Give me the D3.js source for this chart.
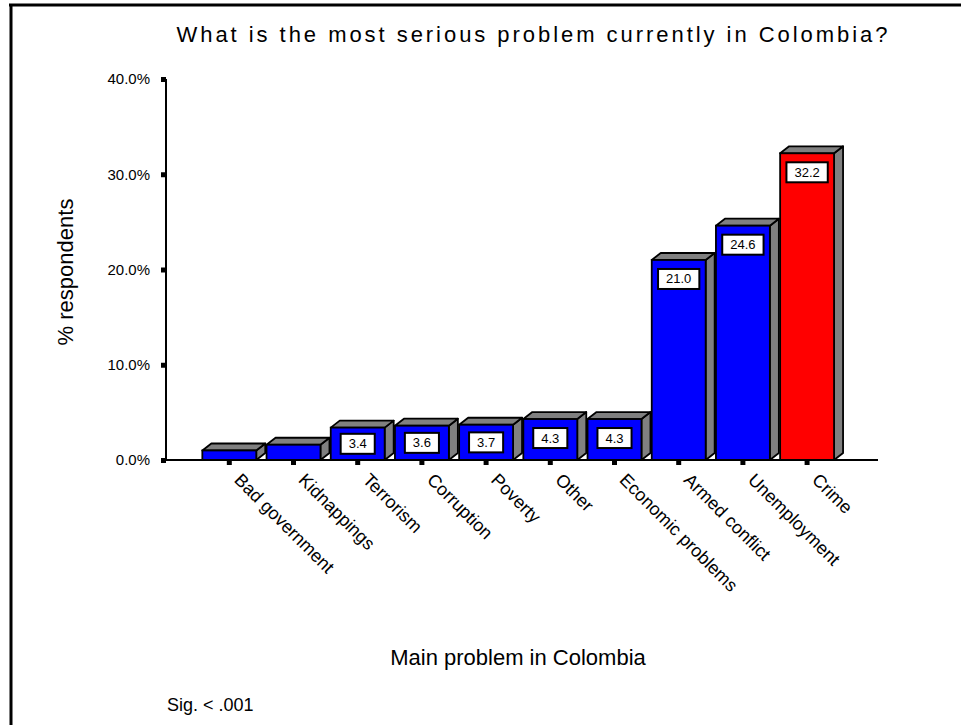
<!DOCTYPE html>
<html>
<head>
<meta charset="utf-8">
<script src="https://cdn.jsdelivr.net/npm/d3@7/dist/d3.min.js"></script>
<style>
  body { margin: 0; background: #fff; }
  text { font-family: Arial, "Liberation Sans", sans-serif; fill: #000; }
</style>
</head>
<body>
<svg id="chart" width="961" height="725"></svg>
<script>
// Survey answers: main problem in Colombia (% of respondents)
const categories = ["Bad government", "Kidnappings", "Terrorism", "Corruption", "Poverty",
                    "Other", "Economic problems", "Armed conflict", "Unemployment", "Crime"];
const values = [1.0, 1.6, 3.4, 3.6, 3.7, 4.3, 4.3, 21.0, 24.6, 32.2];
const highlighted = ["Crime"];
const yTicks = [0, 10, 20, 30, 40];

const titleText = "What is the most serious problem currently in Colombia?";
const yTitle = "% respondents";
const xTitle = "Main problem in Colombia";
const note = "Sig. < .001";

const svg = d3.select("#chart");
svg.append("rect").attr("width", 961).attr("height", 725).attr("fill", "#fff");

// page frame (left and top rules)
svg.append("line").attr("x1", 11).attr("x2", 11).attr("y1", 4).attr("y2", 725)
  .attr("stroke", "#000").attr("stroke-width", 3);
svg.append("line").attr("x1", 9).attr("x2", 961).attr("y1", 5).attr("y2", 5)
  .attr("stroke", "#000").attr("stroke-width", 3);

const axisX = 166, axisRight = 878;
const y = d3.scaleLinear().domain([0, 40]).range([460, 79]);
const x = d3.scaleBand().domain(categories).range([197.2, 839.2])
  .paddingInner(0.16).paddingOuter(0.08);

const depthX = 9, depthY = 7;
const blue = "#0000ff", red = "#ff0000", grey = "#808080";

// title
svg.append("text")
  .attr("x", 532).attr("y", 42)
  .attr("text-anchor", "middle")
  .attr("font-size", 22)
  .attr("textLength", 711)
  .attr("lengthAdjust", "spacing")
  .text(titleText);

// y axis
const yAxis = d3.axisLeft(y).tickValues(yTicks)
  .tickFormat(d => d.toFixed(1) + "%")
  .tickSize(5).tickPadding(11);
const gy = svg.append("g").attr("transform", `translate(${axisX},0)`).call(yAxis);
gy.select(".domain").remove();
gy.selectAll(".tick line").attr("stroke", "#000").attr("stroke-width", 5);
gy.selectAll(".tick text").attr("font-size", 15).attr("font-family", "Arial, 'Liberation Sans', sans-serif");

// x axis ticks
const xAxis = d3.axisBottom(x).tickSize(5).tickFormat("");
const gx = svg.append("g").attr("transform", `translate(0,${y(0)})`).call(xAxis);
gx.select(".domain").remove();
gx.selectAll(".tick line").attr("stroke", "#000").attr("stroke-width", 5);

// axis lines
svg.append("line").attr("x1", axisX).attr("x2", axisX).attr("y1", y(40)).attr("y2", y(0))
  .attr("stroke", "#000").attr("stroke-width", 2);

// 3D bars
const bw = x.bandwidth();
const bars = svg.append("g");
categories.forEach((c, i) => {
  const v = values[i];
  const x0 = x(c), x1 = x0 + bw;
  const top = y(v), base = y(0);
  const g = bars.append("g");
  // side face
  g.append("polygon")
    .attr("points", [[x1, top], [x1 + depthX, top - depthY], [x1 + depthX, base - depthY], [x1, base]].join(" "))
    .attr("fill", grey).attr("stroke", "#000").attr("stroke-width", 1.8).attr("stroke-linejoin", "round");
  // top face
  g.append("polygon")
    .attr("points", [[x0, top], [x0 + depthX, top - depthY], [x1 + depthX, top - depthY], [x1, top]].join(" "))
    .attr("fill", grey).attr("stroke", "#000").attr("stroke-width", 1.8).attr("stroke-linejoin", "round");
  // front face
  g.append("rect")
    .attr("x", x0).attr("y", top).attr("width", bw).attr("height", base - top)
    .attr("fill", highlighted.includes(c) ? red : blue)
    .attr("stroke", "#000").attr("stroke-width", 1.8);
});

// x axis line drawn over bar bases
svg.append("line").attr("x1", axisX).attr("x2", axisRight).attr("y1", y(0)).attr("y2", y(0))
  .attr("stroke", "#000").attr("stroke-width", 2);

// value labels in white boxes
const labels = svg.append("g");
categories.forEach((c, i) => {
  const v = values[i];
  const top = y(v), base = y(0);
  if (base - top < 28) return;
  const cx = x(c) + bw / 2;
  const cy = Math.min(top + 19, (top + base) / 2);
  const txt = v.toFixed(1);
  const t = labels.append("text")
    .attr("x", cx).attr("y", cy + 4.5)
    .attr("text-anchor", "middle")
    .attr("font-size", 13)
    .text(txt);
  const w = t.node().getComputedTextLength() + 16;
  labels.insert("rect", "text")
    .attr("x", cx - w / 2).attr("y", cy - 10).attr("width", w).attr("height", 20)
    .attr("fill", "#fff").attr("stroke", "#000").attr("stroke-width", 2);
});
// keep text above its box
labels.selectAll("text").raise();

// rotated category labels
categories.forEach(c => {
  const cx = x(c) + bw / 2;
  svg.append("text")
    .attr("transform", `translate(${cx + 4},${y(0) + 21}) rotate(45)`)
    .attr("font-size", 18)
    .text(c);
});

// axis titles and note
svg.append("text")
  .attr("transform", `translate(73,272) rotate(-90)`)
  .attr("text-anchor", "middle")
  .attr("font-size", 22)
  .text(yTitle);
svg.append("text")
  .attr("x", 518).attr("y", 665)
  .attr("text-anchor", "middle")
  .attr("font-size", 22)
  .text(xTitle);
svg.append("text")
  .attr("x", 167).attr("y", 711)
  .attr("font-size", 18)
  .text(note);
</script>
</body>
</html>
